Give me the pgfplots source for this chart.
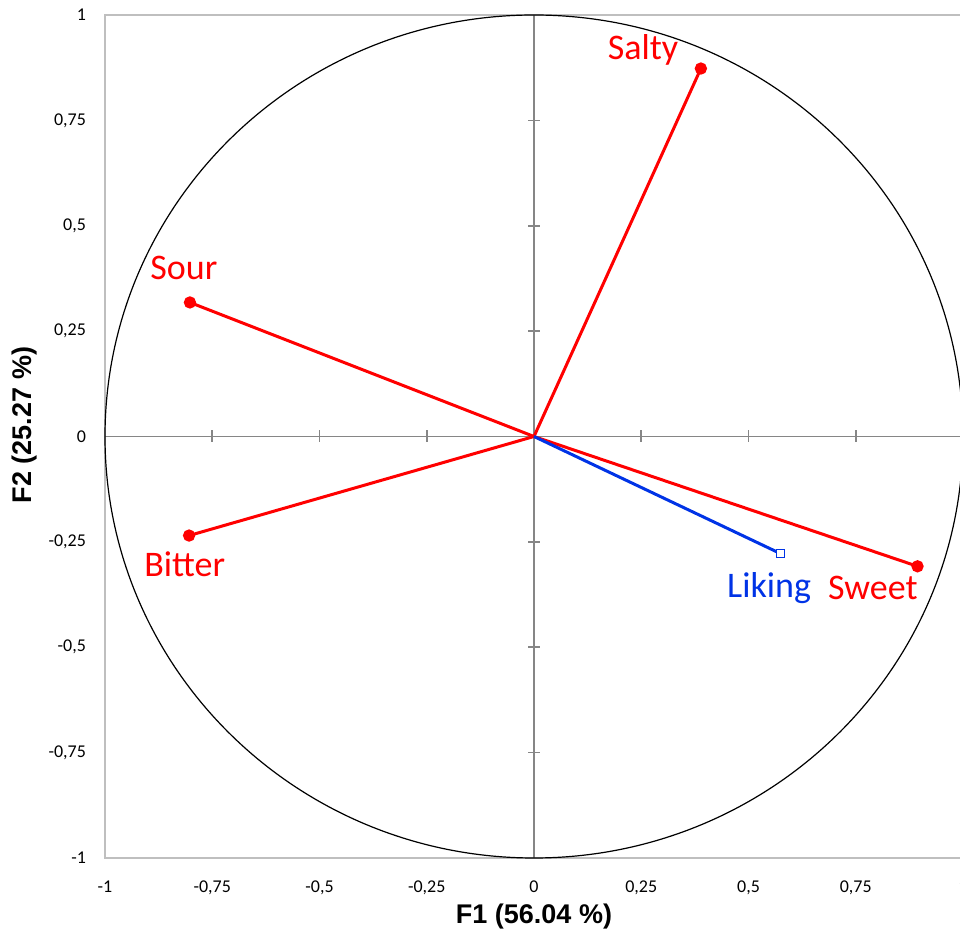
\documentclass[border=0pt]{standalone}
\usepackage{pgfplots}
\pgfplotsset{compat=1.18}
\usepackage{fontspec}
\setmainfont{Carlito}
\newfontfamily\arialfont{Liberation Sans}
\definecolor{varred}{RGB}{255,0,0}
\definecolor{likeblue}{RGB}{0,51,230}
\definecolor{framegray}{RGB}{191,191,191}
\definecolor{zeroaxis}{RGB}{134,134,134}
\begin{document}
\begin{tikzpicture}
\path[use as bounding box] (-52.5pt,-37pt) rectangle (427.5pt,429pt);
\begin{axis}[
  at={(0,0)}, anchor=south west,
  scale only axis, width=429pt, height=421.5pt,
  xmin=-1, xmax=1, ymin=-1, ymax=1,
  clip=false,
  axis line style={draw=framegray, line width=1pt},
  tick style={draw=none},
  xtick={-1,-0.75,-0.5,-0.25,0,0.25,0.5,0.75,1},
  ytick={-1,-0.75,-0.5,-0.25,0,0.25,0.5,0.75,1},
  tick label style={font=\fontsize{9}{10}\selectfont},
  /pgf/number format/.cd, use comma, assume math mode=true,
  /pgfplots/.cd,
  yticklabel style={xshift=-6pt},
  xticklabel style={yshift=-8pt},
]
% zero axes
\draw[zeroaxis, line width=0.8pt] (axis cs:-1,0) -- (axis cs:1,0);
\draw[zeroaxis, line width=0.8pt] (axis cs:0,-1) -- (axis cs:0,1);
\addplot[zeroaxis, only marks, mark=|, mark size=3pt, line width=0.8pt]
  coordinates {(-0.75,0) (-0.5,0) (-0.25,0) (0.25,0) (0.5,0) (0.75,0)};
\addplot[zeroaxis, only marks, mark=-, mark size=3pt, line width=0.8pt]
  coordinates {(0,-0.75) (0,-0.5) (0,-0.25) (0,0.25) (0,0.5) (0,0.75)};
% unit circle
\draw[black, line width=0.6pt] (axis cs:0,0) ellipse [x radius=214.5pt, y radius=210.75pt];
% variables
\addplot[varred, line width=1.5pt, mark=*, mark size=2.3pt, mark indices={2}]
  coordinates {(0,0) (0.389,0.873)};
\addplot[varred, line width=1.5pt, mark=*, mark size=2.3pt, mark indices={2}]
  coordinates {(0,0) (-0.802,0.318)};
\addplot[varred, line width=1.5pt, mark=*, mark size=2.3pt, mark indices={2}]
  coordinates {(0,0) (-0.804,-0.235)};
\addplot[varred, line width=1.5pt, mark=*, mark size=2.3pt, mark indices={2}]
  coordinates {(0,0) (0.894,-0.308)};
\addplot[likeblue, line width=1.5pt, mark=square*, mark size=2pt, mark indices={2},
  mark options={fill=white, line width=0.6pt, solid}]
  coordinates {(0,0) (0.575,-0.278)};
% labels
\node[anchor=base, text=varred, font=\fontsize{18}{20}\selectfont, inner sep=0pt] at (axis cs:0.254,0.894) {Salty};
\node[anchor=base, text=varred, font=\fontsize{18}{20}\selectfont, inner sep=0pt] at (axis cs:-0.816,0.372) {Sour};
\node[anchor=base, text=varred, font=\fontsize{18}{20}\selectfont, inner sep=0pt] at (axis cs:-0.814,-0.332) {Bitter};
\node[anchor=base, text=likeblue, font=\fontsize{18}{20}\selectfont, inner sep=0pt] at (axis cs:0.548,-0.382) {Liking};
\node[anchor=base, text=varred, font=\fontsize{18}{20}\selectfont, inner sep=0pt] at (axis cs:0.790,-0.387) {Sweet};
\end{axis}
\node[anchor=base, font=\arialfont\bfseries\fontsize{13.5}{15}\selectfont, inner sep=0pt] at (214.5pt,-33pt) {F1 (56.04 \%)};
\node[rotate=90, anchor=center, font=\arialfont\bfseries\fontsize{13.5}{15}\selectfont, inner sep=0pt] at (-40pt,216.5pt) {F2 (25.27 \%)};
\end{tikzpicture}
\end{document}
